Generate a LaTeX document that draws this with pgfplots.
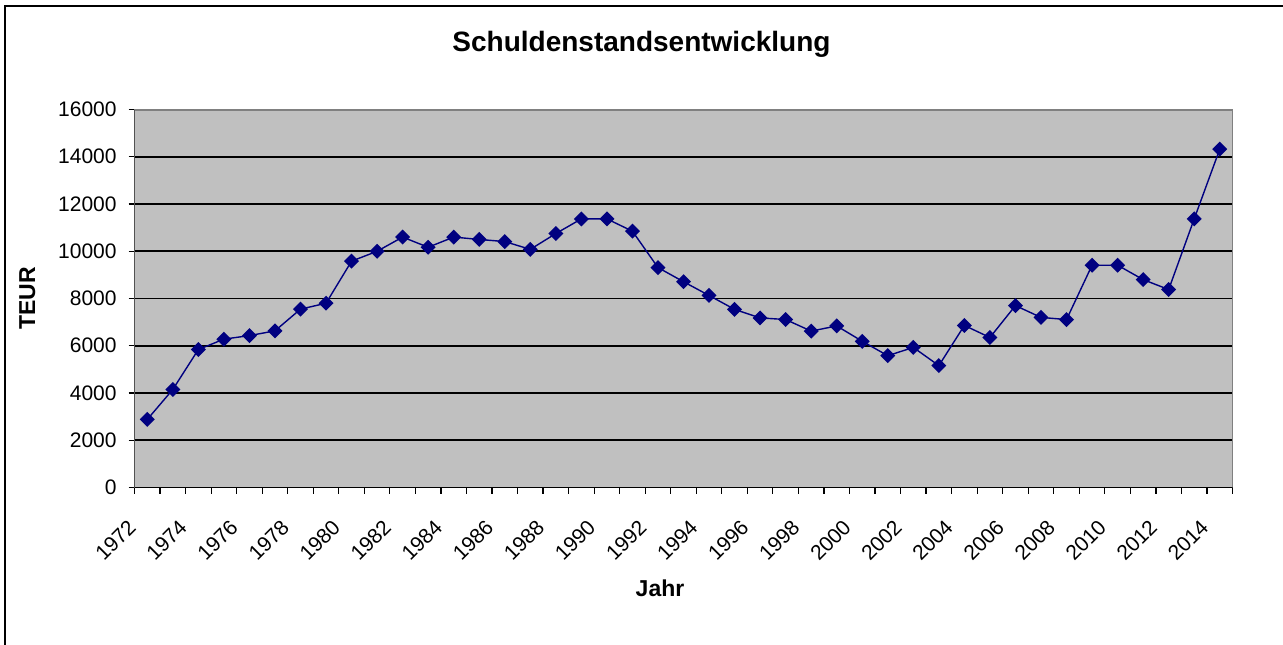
\documentclass[border=0pt]{standalone}
\usepackage{fontspec}
\setmainfont{Liberation Sans}
\usepackage{pgfplots}
\usepackage{pgfplotstable}
\pgfplotsset{compat=1.18}

\definecolor{plotbg}{HTML}{C0C0C0}
\definecolor{navyline}{HTML}{000080}

% Schuldenstand in TEUR, idx 0 = 1972
\pgfplotstableread{
idx year teur
0 1972 2880
1 1973 4150
2 1974 5840
3 1975 6280
4 1976 6430
5 1977 6630
6 1978 7550
7 1979 7800
8 1980 9580
9 1981 10000
10 1982 10600
11 1983 10170
12 1984 10600
13 1985 10500
14 1986 10410
15 1987 10080
16 1988 10750
17 1989 11370
18 1990 11370
19 1991 10850
20 1992 9310
21 1993 8710
22 1994 8130
23 1995 7540
24 1996 7180
25 1997 7110
26 1998 6620
27 1999 6840
28 2000 6190
29 2001 5580
30 2002 5930
31 2003 5160
32 2004 6860
33 2005 6350
34 2006 7700
35 2007 7200
36 2008 7110
37 2009 9410
38 2010 9410
39 2011 8800
40 2012 8380
41 2013 11370
42 2014 14320
}\schulden

\begin{document}
\begin{tikzpicture}
\useasboundingbox (0,0) rectangle (641.5pt,-322pt);
\draw[line width=1pt] (2.5pt,-330pt) -- (2.5pt,-3pt) -- (650pt,-3pt);
\begin{axis}[
  at={(67.25pt,-243.75pt)}, anchor=south west,
  width=549pt, height=189pt, scale only axis,
  xmin=-0.5, xmax=42.5, ymin=0, ymax=16000,
  axis background/.style={fill=plotbg},
  axis line style={gray, line width=0.5pt},
  xtick={0,2,...,42},
  xticklabels={1972,1974,1976,1978,1980,1982,1984,1986,1988,1990,1992,1994,1996,1998,2000,2002,2004,2006,2008,2010,2012,2014},
  minor xtick={-0.5,0.5,...,42.5},
  major x tick style={draw=none},
  minor x tick style={black, line width=0.6pt},
  ytick={0,2000,...,16000},
  scaled y ticks=false,
  major y tick style={black, line width=0.6pt},
  tick align=outside, xtick pos=lower, ytick pos=left,
  major tick length=3pt, minor tick length=3pt,
  ymajorgrids, grid style={black, line width=0.8pt},
  /pgf/number format/1000 sep={},
  /pgf/number format/assume math mode=true,
  ticklabel style={font=\fontsize{10.5}{12}\selectfont},
  yticklabel style={anchor=east, inner sep=0pt, xshift=-5.75pt},
  xticklabel style={inner sep=0pt, xshift=-7.5pt, yshift=-15pt, rotate=45, anchor=east},
  every axis title shift=0pt,
  title={Schuldenstandsentwicklung},
  title style={font=\bfseries\fontsize{14}{16}\selectfont, at={(axis description cs:0.4617,1.1733)}, anchor=center},
  xlabel={Jahr},
  xlabel style={font=\bfseries\fontsize{11.5}{13}\selectfont, at={(axis description cs:0.4786,-0.266)}, anchor=center},
  ylabel={TEUR},
  ylabel style={font=\bfseries\fontsize{11.5}{13}\selectfont, at={(axis description cs:-0.0975,0.5)}, anchor=center},
]
\addplot[navyline, line width=0.7pt, mark=square*, mark size=2.3pt,
  mark options={fill=navyline, draw=navyline, rotate=45}]
  table[x=idx, y=teur] {\schulden};
\draw[gray, line width=1pt] (rel axis cs:0,1) -- (rel axis cs:1,1) -- (rel axis cs:1,0);
\draw[black, line width=0.6pt] (rel axis cs:0,1) -- (rel axis cs:0,0) -- (rel axis cs:1,0);
\end{axis}
\end{tikzpicture}
\end{document}
